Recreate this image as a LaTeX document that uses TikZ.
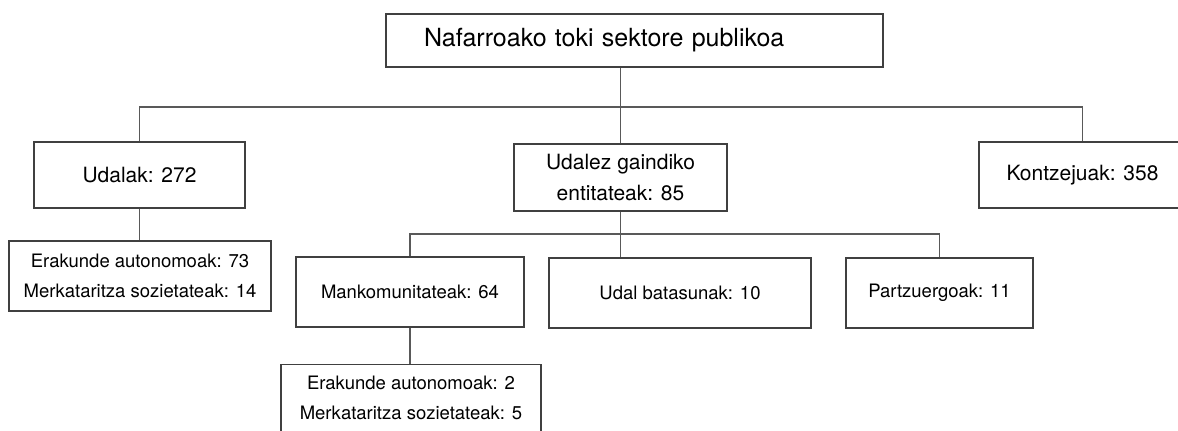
\documentclass[tikz,border=0pt]{standalone}
\usepackage{fontspec}
\setmainfont{TeX Gyre Heros}
\usepackage{tikz}
\usetikzlibrary{calc}

\begin{document}
\begin{tikzpicture}[x=1pt, y=-1pt,
        box/.style={draw=black!75, line width=1.1pt, rectangle, inner sep=0pt, align=center},
        big/.style={font=\fontsize{21}{32}\selectfont},
        small/.style={font=\fontsize{18.5}{30.5}\selectfont},
        link/.style={draw=black!65, line width=1.1pt}]
        \useasboundingbox (0,0) rectangle (1178,431);

        \coordinate (N) at (634.5,40.5);
        \coordinate (U) at (139.5,175);
        \coordinate (G) at (620.5,177.5);
        \coordinate (K) at (1082.5,175);
        \coordinate (E) at (140,276);
        \coordinate (M) at (410,292);
        \coordinate (B) at (680,293);
        \coordinate (P) at (939.5,293);
        \coordinate (F) at (411,364);
        \coordinate (H) at (620,107);
        \coordinate (L) at (620,234);

        \node[box, font=\fontsize{25}{30}\selectfont, text width=421pt, inner xsep=38pt, minimum height=53pt, align=left] (nafar) at (N) {Nafarroako toki sektore publikoa};
        \node[box, big, minimum width=211pt, minimum height=66pt] (udalak) at (U) {Udalak: 272};
        \node[box, big, minimum width=213pt, minimum height=67pt] (udalez) at (G) {Udalez gaindiko\\entitateak: 85};
        \node[box, big, minimum width=207pt, minimum height=66pt] (kontzejuak) at (K) {Kontzejuak: 358};
        \node[box, small, minimum width=262pt, minimum height=70pt] (erak1) at (E) {Erakunde autonomoak: 73\\Merkataritza sozietateak: 14};
        \node[box, small, minimum width=228pt, minimum height=70pt] (mank) at (M) {Mankomunitateak: 64};
        \node[box, small, minimum width=262pt, minimum height=70pt] (batasun) at (B) {Udal batasunak: 10};
        \node[box, small, minimum width=187pt, minimum height=70pt] (partz) at (P) {Partzuergoak: 11};
        \node[box, small, minimum width=260pt, inner ysep=11pt, anchor=north] (erak2) at (F) {Erakunde autonomoak: 2\\Merkataritza sozietateak: 5\rule[-20pt]{0pt}{1pt}};

        \draw[link] (udalez.north) -- (udalez.north |- nafar.south);
        \draw[link] (udalak.north) -- (udalak.north |- H) -- (kontzejuak.north |- H) -- (kontzejuak.north);
        \draw[link] (udalak.south) -- (udalak.south |- erak1.north);
        \draw[link] (udalez.south) -- (udalez.south |- batasun.north);
        \draw[link] (mank.north) -- (mank.north |- L) -- (partz.north |- L) -- (partz.north);
        \draw[link] (mank.south) -- (mank.south |- erak2.north);
    \end{tikzpicture}
\end{document}
